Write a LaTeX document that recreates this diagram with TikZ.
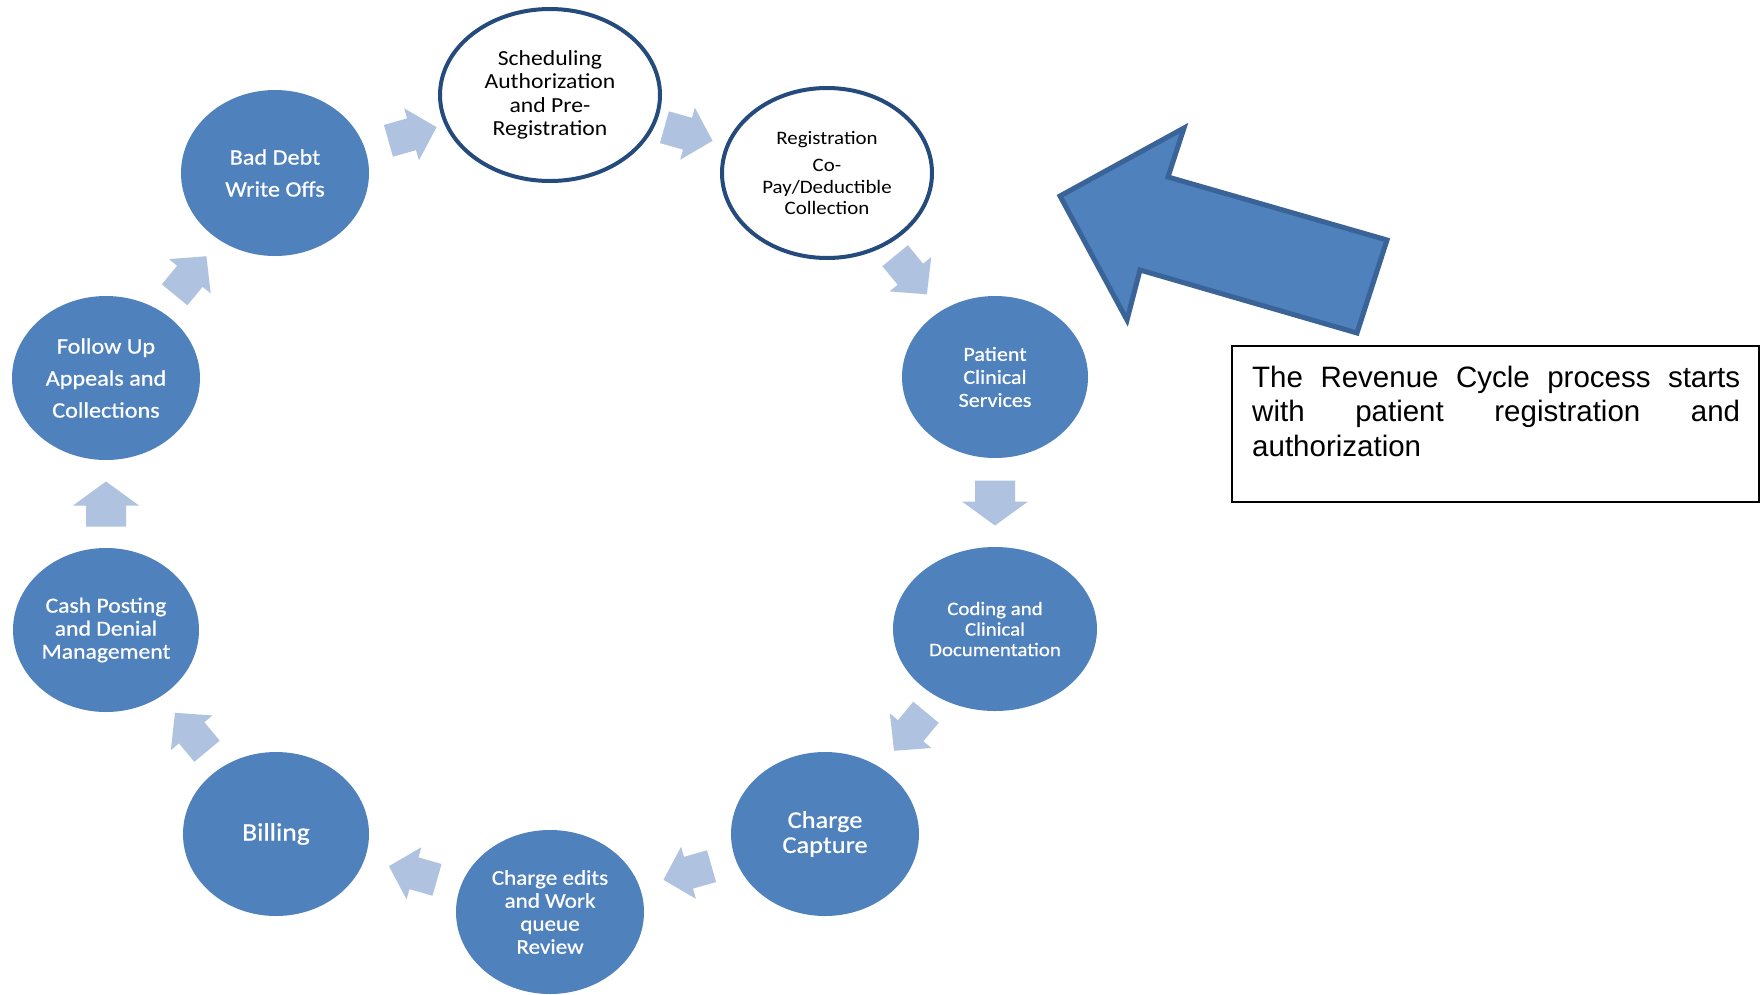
\documentclass[tikz,border=0pt]{standalone}
\usepackage{fontspec}
\setmainfont{Carlito}
\newfontfamily\nodefont{Carlito}[FakeStretch=1.1]
\newfontfamily\whitefont{Carlito}[FakeStretch=1.1,FakeBold=0.7]
\newfontfamily\boxfont{Liberation Sans}
\usetikzlibrary{shapes.geometric,calc}
\definecolor{nodeblue}{HTML}{4F81BD}
\definecolor{navyedge}{HTML}{254A7C}
\definecolor{arrowlight}{HTML}{AFC2DF}
\definecolor{bigedge}{HTML}{3A6397}
\newcommand\fsz[2]{\fontsize{#1}{#2}\selectfont}
\newcommand\cyc[3]{\path let \p1=(#2.center), \p2=(#3.center), \n1={atan2(\y2-\y1,\x2-\x1)} in ($(\p1)!0.5!(\p2)$) pic[rotate=\n1] {#1};}
\tikzset{
  stage/.style={ellipse, inner sep=0pt, fill=nodeblue, text=white, align=center},
  openstage/.style={ellipse, inner sep=0pt, fill=white, draw=navyedge, line width=4pt, text=black, align=center},
  cycarrow/.pic={\fill[arrowlight] (-25,-16.5) -- (-1,-16.5) -- (-1,-27) -- (25,0) -- (-1,27) -- (-1,16.5) -- (-25,16.5) -- cycle;},
  cycarrowbig/.pic={\fill[arrowlight] (-22.5,-20) -- (-1.5,-20) -- (-1.5,-33) -- (22.5,0) -- (-1.5,33) -- (-1.5,20) -- (-22.5,20) -- cycle;},
}
\begin{document}
\begin{tikzpicture}[x=1pt,y=-1pt]
\useasboundingbox[fill=white] (0,0) rectangle (1761,994);

\node[openstage, minimum width=220pt, minimum height=172pt, font={\nodefont\fsz{21.5}{23.3}}] (sched) at (550,95) {Scheduling\\Authorization\\and Pre-\\Registration};
\node[openstage, minimum width=210pt, minimum height=170pt, font={\nodefont\fsz{19}{21.5}}] (reg) at (827,173) {Registration\\[6pt]Co-\\Pay/Deductible\\Collection};
\node[stage, minimum width=186pt, minimum height=162pt, font={\whitefont\fsz{20}{23}}] (pat) at (995,377) {Patient\\Clinical\\Services};
\node[stage, minimum width=204pt, minimum height=164pt, font={\whitefont\fsz{19}{20.5}}] (cod) at (995,629) {Coding and\\Clinical\\Documentation};
\node[stage, minimum width=188pt, minimum height=164pt, font={\whitefont\fsz{24}{25}}] (cap) at (825,834) {Charge\\Capture};
\node[stage, minimum width=188pt, minimum height=164pt, font={\whitefont\fsz{21}{23}}] (edit) at (550,912) {Charge edits\\and Work\\queue\\Review};
\node[stage, minimum width=186pt, minimum height=164pt, font={\whitefont\fsz{25}{26}}] (bill) at (276,834) {Billing};
\node[stage, minimum width=186pt, minimum height=164pt, font={\whitefont\fsz{21.5}{23}}] (cash) at (106,630) {Cash Posting\\and Denial\\Management};
\node[stage, minimum width=188pt, minimum height=164pt, font={\whitefont\fsz{22}{32}}] (fol) at (106,378) {Follow Up\\Appeals and\\Collections};
\node[stage, minimum width=188pt, minimum height=166pt, font={\whitefont\fsz{22}{32}}] (bad) at (275,173) {Bad Debt\\Write Offs};

\cyc{cycarrow}{bad}{sched}
\cyc{cycarrow}{sched}{reg}
\cyc{cycarrow}{reg}{pat}
\cyc{cycarrowbig}{pat}{cod}
\cyc{cycarrow}{cod}{cap}
\cyc{cycarrow}{cap}{edit}
\cyc{cycarrow}{edit}{bill}
\cyc{cycarrow}{bill}{cash}
\cyc{cycarrowbig}{cash}{fol}
\cyc{cycarrow}{fol}{bad}

\draw[fill=nodeblue, draw=bigedge, line width=5pt, line join=miter] (1060,196) -- (1184,128) -- (1168,177) -- (1387,240) -- (1357,333) -- (1140,270) -- (1127,320) -- cycle;

\node[draw=black, line width=1.6pt, minimum width=527pt, minimum height=156pt, inner sep=0pt, anchor=north west] (note) at (1231,345) {};
\node[anchor=base west, inner sep=0pt, font={\boxfont\fsz{29.5}{34.5}}] (notetext) at (1252,387) {\parbox[t]{488pt}{\makebox[488pt][s]{The Revenue Cycle process starts}\par\makebox[488pt][s]{with patient registration and}\par authorization}};
\end{tikzpicture}
\end{document}
